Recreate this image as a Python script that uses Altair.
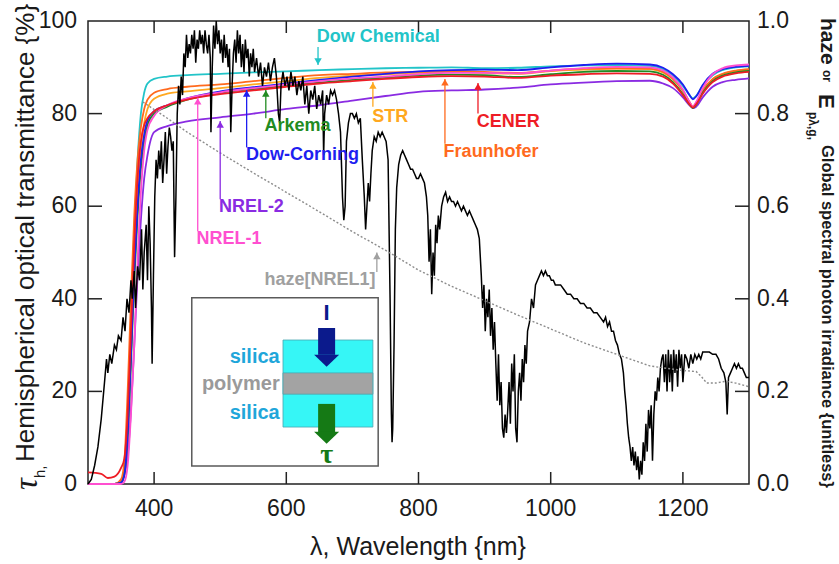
import altair as alt
import pandas as pd

# ---------------- data ----------------
wl_t = [300, 320, 330, 340, 350, 355, 360, 365, 370, 375, 380, 385, 390, 400, 420, 450,
        500, 550, 600, 650, 700, 750, 800, 850, 900, 950, 1000, 1050, 1100, 1150, 1170,
        1185, 1200, 1210, 1215, 1220, 1230, 1245, 1260, 1280, 1300]

tau_dow_chemical = [0, 0, 0, 0, 0.5, 3, 15, 35, 55, 70, 80, 84.5, 86.5, 87.5, 88, 88.3,
                    88.6, 88.9, 89.1, 89.4, 89.6, 89.8, 89.9, 90, 89.8, 89.9, 90.2, 90.4, 90.5, 90.3, 89.6,
                    88.2, 86, 84, 83.3, 83.8, 86, 88.3, 89.4, 90, 90.2]
tau_fraunhofer = [0, 0, 0, 0, 1, 5, 20, 40, 58, 70, 77, 81, 83, 84.5, 85.3, 85.8,
                  86.3, 87, 87.7, 88.3, 88.6, 88.9, 89, 89.2, 89, 88.8, 89.3, 89.7, 89.8, 89.7, 89,
                  87.5, 85, 82.5, 81.5, 82.3, 85, 87.5, 88.6, 89.3, 89.6]
tau_str = [0, 0, 0, 0, 0.5, 3, 14, 32, 50, 64, 73, 78, 81, 83.2, 84.3, 84.8,
           85.5, 86.3, 87, 87.7, 88.2, 88.5, 88.8, 89, 88.8, 88.6, 89.2, 89.5, 89.7, 89.6, 88.9,
           87.4, 84.9, 82.4, 81.5, 82.2, 84.9, 87.4, 88.5, 89.2, 89.5]
tau_arkema = [0, 0, 0, 0, 0.3, 2, 10, 26, 44, 58, 68, 74, 77.5, 80, 81.5, 83,
              84.5, 85.3, 86, 86.7, 87.3, 87.8, 88.2, 88.4, 88.3, 87.9, 88.5, 89, 89.2, 89.1, 88.4,
              86.8, 84.2, 82, 81.2, 81.9, 84.5, 87, 88.2, 88.9, 89.2]
tau_dow_corning = [0, 0, 0, 0, 0.3, 2, 11, 28, 46, 60, 70, 75.5, 78.5, 80.5, 81.8, 83.3,
                   84.8, 85.7, 86.5, 87.3, 88, 88.6, 89.1, 89.4, 89.5, 89.4, 90, 90.5, 90.8, 90.6, 89.9,
                   88.5, 86.3, 84, 83.1, 83.7, 86.2, 88.6, 89.6, 90.1, 90.3]
tau_cener = [2.5, 2.2, 1.3, 1.6, 3.5, 5.5, 15, 33, 52, 66, 74, 77.5, 79, 80.5, 81.8, 83,
             84.2, 85, 85.8, 86.5, 87, 87.5, 87.9, 88.1, 88, 87.7, 88.2, 88.5, 88.7, 88.6, 88,
             86.5, 84, 82, 81.3, 82, 84.3, 86.8, 88, 88.7, 89]
tau_nrel1 = [0, 0, 0, 0, 0, 0.5, 4, 15, 30, 48, 63, 72, 76.5, 79.5, 81.8, 83.3,
             84.6, 85.5, 86.3, 87, 87.6, 88, 88.5, 88.8, 88.8, 88.7, 89.3, 89.8, 90.1, 90, 89.3,
             87.8, 85.2, 82.5, 81.5, 82.5, 85.5, 88.5, 89.8, 90.4, 90.6]
tau_nrel2 = [0, 0, 0, 0, 0.5, 2, 6, 16, 30, 45, 57, 66, 71, 76, 77.3, 78.3,
             79.2, 80, 81, 81.8, 82.8, 83.8, 84.7, 85, 85.2, 85.6, 86.3, 86.7, 87, 87.1, 86.5,
             85.5, 83.5, 81.8, 81.2, 81.5, 83.5, 85.8, 86.8, 87.3, 87.6]

series_order = ["NREL-2", "Dow Chemical", "STR", "Fraunhofer", "Arkema", "Dow-Corning", "NREL-1", "CENER"]
series_values = {
    "NREL-2": tau_nrel2, "Dow Chemical": tau_dow_chemical, "STR": tau_str,
    "Fraunhofer": tau_fraunhofer, "Arkema": tau_arkema, "Dow-Corning": tau_dow_corning,
    "NREL-1": tau_nrel1, "CENER": tau_cener,
}
series_colors = {
    "NREL-2": "#8A2BE2", "Dow Chemical": "#22C4C8", "STR": "#FFA820",
    "Fraunhofer": "#FF6A1E", "Arkema": "#228B22", "Dow-Corning": "#1E1EF0",
    "NREL-1": "#FF4FD0", "CENER": "#EE1C25",
}

# global spectral photon irradiance (normalised, right axis), by region: (wavelength nm, value)
spec_uv = [(300, 0.00), (305, 0.01), (310, 0.04), (315, 0.08), (320, 0.14), (325, 0.22),
           (328, 0.27), (330, 0.24), (333, 0.28), (336, 0.26), (340, 0.30), (343, 0.29),
           (346, 0.32), (350, 0.31), (353, 0.36), (356, 0.33), (359, 0.40), (362, 0.37),
           (365, 0.44), (367, 0.40), (370, 0.46), (372, 0.38), (375, 0.47), (378, 0.44),
           (381, 0.55), (383, 0.42), (385, 0.50), (388, 0.56), (390, 0.44), (392, 0.60),
           (394, 0.52), (396, 0.38), (397, 0.26), (399, 0.45)]
spec_vis = [(401, 0.62), (403, 0.70), (405, 0.66), (407, 0.72), (409, 0.68), (411, 0.74),
            (413, 0.65), (415, 0.70), (417, 0.76), (419, 0.67), (421, 0.73), (423, 0.77),
            (425, 0.75), (427, 0.72), (429, 0.74), (431, 0.49), (433, 0.62), (435, 0.80),
            (437, 0.86), (439, 0.82), (441, 0.88), (443, 0.84), (445, 0.93), (447, 0.90),
            (449, 0.97), (451, 0.92), (453, 0.95), (455, 0.93), (457, 0.97), (459, 0.94),
            (461, 0.98), (463, 0.91), (465, 0.96), (467, 0.94), (469, 0.98), (471, 0.95),
            (473, 0.97), (475, 0.93), (477, 0.98), (479, 0.95), (481, 0.93), (483, 0.97),
            (485, 0.92), (486, 0.76), (488, 0.90), (490, 0.99), (492, 0.94), (494, 1.00),
            (496, 0.95), (498, 0.98), (500, 0.93), (502, 0.96), (504, 0.91), (506, 0.97),
            (508, 0.92), (510, 0.95), (512, 0.90), (514, 0.94), (516, 0.76), (518, 0.86),
            (520, 0.93), (522, 0.96), (524, 0.91), (526, 0.98), (528, 0.93), (530, 0.97),
            (532, 0.90), (534, 0.95), (536, 0.89), (538, 0.96), (540, 0.92), (542, 0.94),
            (544, 0.88), (546, 0.93), (548, 0.90), (550, 0.94), (552, 0.89), (555, 0.92),
            (558, 0.88), (561, 0.91), (564, 0.86), (567, 0.90), (570, 0.88), (573, 0.91),
            (576, 0.87), (579, 0.90), (582, 0.92), (585, 0.88), (588, 0.80), (590, 0.78),
            (592, 0.86), (595, 0.89), (598, 0.86), (601, 0.88), (604, 0.85), (607, 0.89),
            (610, 0.86), (613, 0.88), (616, 0.84), (619, 0.87), (622, 0.85), (625, 0.88),
            (628, 0.82), (631, 0.86), (634, 0.80), (637, 0.85), (640, 0.83), (643, 0.86),
            (646, 0.81), (649, 0.84), (652, 0.82), (655, 0.85), (656.5, 0.71), (658, 0.80),
            (661, 0.84), (664, 0.82), (667, 0.85), (670, 0.84), (673, 0.85), (676, 0.83),
            (679, 0.80), (682, 0.76), (685, 0.62), (687, 0.57), (689, 0.60), (691, 0.74),
            (694, 0.78), (697, 0.80), (700, 0.80), (703, 0.79), (706, 0.80), (709, 0.78),
            (712, 0.79), (715, 0.70), (718, 0.62), (720, 0.55), (722, 0.60), (724, 0.65),
            (726, 0.61), (728, 0.67), (730, 0.72), (733, 0.75), (736, 0.74), (739, 0.76),
            (742, 0.75), (745, 0.76), (748, 0.75), (751, 0.74), (754, 0.70), (757, 0.40),
            (759, 0.15), (760, 0.09), (761, 0.12), (763, 0.30), (765, 0.55), (767, 0.64),
            (770, 0.69), (773, 0.71), (776, 0.72), (779, 0.71), (782, 0.70), (785, 0.69),
            (788, 0.68), (791, 0.68), (794, 0.67), (797, 0.66)]
spec_nir1 = [(800, 0.66), (803, 0.67), (806, 0.66), (809, 0.65), (812, 0.62), (814, 0.58),
             (816, 0.48), (818, 0.55), (820, 0.41), (822, 0.50), (824, 0.45), (826, 0.56),
             (828, 0.52), (830, 0.58), (832, 0.55), (835, 0.60), (838, 0.62), (841, 0.63),
             (844, 0.61), (847, 0.62), (850, 0.61), (853, 0.61), (856, 0.60), (859, 0.61),
             (862, 0.60), (865, 0.59), (868, 0.60), (871, 0.59), (874, 0.58), (877, 0.59),
             (880, 0.58), (883, 0.57), (886, 0.56), (889, 0.55), (892, 0.53), (895, 0.45),
             (897, 0.38), (899, 0.43), (901, 0.33), (903, 0.40), (905, 0.36), (907, 0.42),
             (909, 0.32), (911, 0.38), (913, 0.29), (915, 0.35), (917, 0.26), (919, 0.18),
             (921, 0.28), (923, 0.17), (925, 0.22), (927, 0.12), (929, 0.10), (931, 0.15),
             (933, 0.11), (935, 0.16), (937, 0.22), (939, 0.13), (941, 0.26), (943, 0.20),
             (945, 0.28), (947, 0.12), (949, 0.09), (951, 0.20), (953, 0.24), (955, 0.18),
             (957, 0.27), (959, 0.22), (961, 0.30), (963, 0.26), (965, 0.33), (968, 0.35),
             (971, 0.40), (974, 0.38), (977, 0.43), (980, 0.44), (983, 0.45), (986, 0.46),
             (989, 0.45), (992, 0.46), (995, 0.45), (998, 0.45)]
spec_nir2 = [(1001, 0.44), (1004, 0.44), (1007, 0.43), (1010, 0.43), (1015, 0.43), (1020, 0.42),
             (1025, 0.41), (1030, 0.41), (1035, 0.40), (1040, 0.40), (1045, 0.39), (1050, 0.39),
             (1055, 0.38), (1060, 0.38), (1065, 0.37), (1070, 0.37), (1075, 0.36), (1080, 0.35),
             (1083, 0.36), (1086, 0.34), (1089, 0.35), (1092, 0.33), (1095, 0.33), (1098, 0.31),
             (1101, 0.30), (1104, 0.28), (1107, 0.27), (1110, 0.24), (1112, 0.20), (1114, 0.17),
             (1116, 0.13), (1118, 0.10), (1120, 0.08), (1122, 0.05), (1124, 0.08), (1126, 0.04),
             (1128, 0.07), (1130, 0.03), (1132, 0.06), (1134, 0.01), (1136, 0.05), (1138, 0.02),
             (1140, 0.09), (1142, 0.05), (1144, 0.13), (1146, 0.07), (1148, 0.16), (1150, 0.12),
             (1152, 0.17), (1154, 0.05), (1156, 0.15), (1158, 0.20), (1160, 0.18), (1162, 0.23),
             (1164, 0.20), (1166, 0.25), (1168, 0.27), (1170, 0.28), (1172, 0.22), (1174, 0.28),
             (1176, 0.20), (1178, 0.29), (1180, 0.22), (1182, 0.28), (1184, 0.20), (1186, 0.29),
             (1188, 0.24), (1190, 0.28), (1192, 0.21), (1194, 0.29), (1196, 0.25), (1198, 0.28),
             (1200, 0.22), (1203, 0.28), (1206, 0.27), (1209, 0.25), (1212, 0.28), (1215, 0.26),
             (1218, 0.28), (1221, 0.27), (1224, 0.28), (1227, 0.27), (1230, 0.285), (1235, 0.285),
             (1240, 0.285), (1245, 0.28), (1250, 0.28), (1254, 0.27), (1258, 0.25), (1262, 0.24),
             (1265, 0.22), (1267, 0.15), (1269, 0.23), (1272, 0.24), (1275, 0.25), (1278, 0.26),
             (1281, 0.25), (1284, 0.26), (1287, 0.25), (1290, 0.25), (1293, 0.24), (1296, 0.23),
             (1300, 0.23)]

haze_wl = [383, 420, 450, 500, 550, 600, 650, 700, 750, 800, 850, 900, 950, 1000, 1050,
           1100, 1150, 1200, 1220, 1228, 1236, 1250, 1265, 1280, 1300]
haze_val = [0.825, 0.79, 0.76, 0.715, 0.672, 0.63, 0.588, 0.545, 0.505, 0.462, 0.427, 0.396,
            0.365, 0.335, 0.305, 0.28, 0.255, 0.245, 0.243, 0.232, 0.218, 0.218, 0.222, 0.218, 0.21]

# annotations (wavelength, % on left axis)
label_text = ["Dow Chemical", "STR", "Arkema", "Dow-Corning", "NREL-2", "NREL-1", "Fraunhofer", "CENER"]
label_wl = [646, 730, 567, 539, 498, 464, 838, 888]
label_pct = [96.5, 79.3, 77.3, 71.0, 59.8, 52.9, 71.7, 78.2]
label_color = ["#22C4C8", "#FFA820", "#228B22", "#1E1EF0", "#8A2BE2", "#FF4FD0", "#FF6A1E", "#EE1C25"]

arrow_wl = [648, 731, 569, 540, 500, 466, 840, 890, 737]
arrow_from = [94.4, 81.5, 79.0, 72.7, 61.5, 54.6, 73.5, 80.0, 45.8]
arrow_to = [90.5, 86.8, 85.1, 85.1, 78.4, 83.4, 87.5, 86.6, 50.0]
arrow_up = [False, True, True, True, True, True, True, True, True]
arrow_color = ["#22C4C8", "#FFA820", "#228B22", "#1E1EF0", "#8A2BE2", "#FF4FD0", "#FF6A1E", "#EE1C25", "#A0A0A0"]

x_ticks = [400, 600, 800, 1000, 1200]
yl_ticks = [0, 20, 40, 60, 80, 100]
yr_ticks = [0.0, 0.2, 0.4, 0.6, 0.8, 1.0]

# ---------------- chart ----------------
W, H = 661, 463
FONT = "Liberation Sans"
TXT = "#1a1a1a"
FRAME = "#222"
xs = alt.Scale(domain=[300, 1300], nice=False, zero=False)
ys = alt.Scale(domain=[0, 100], nice=False, zero=False)   # left axis (%); right axis = value*100


def xq(field="wl"):
    return alt.X(f"{field}:Q", scale=xs, axis=None)


def yq(field):
    return alt.Y(f"{field}:Q", scale=ys, axis=None)


layers = []

# transmittance curves
for name in series_order:
    df = pd.DataFrame({"wl": wl_t, "tau": series_values[name]})
    layers.append(
        alt.Chart(df).mark_line(color=series_colors[name], strokeWidth=1.8, interpolate="monotone").encode(
            x=xq(), y=yq("tau"))
    )

# spectrum + haze (right axis units, shown on the shared 0-100 scale)
spec_pts = spec_uv + spec_vis + spec_nir1 + spec_nir2
spec_df = pd.DataFrame({"wl": [p[0] for p in spec_pts], "E": [p[1] for p in spec_pts]})
layers.append(alt.Chart(spec_df).transform_calculate(pct="datum.E * 100").mark_line(
    color="black", strokeWidth=1.5).encode(x=xq(), y=yq("pct")))
haze_df = pd.DataFrame({"wl": haze_wl, "E": haze_val})
layers.append(alt.Chart(haze_df).transform_calculate(pct="datum.E * 100").mark_line(
    color="#8C8C8C", strokeWidth=1.4, strokeDash=[2, 2]).encode(x=xq(), y=yq("pct")))

# ticks (inward)
lt_df = pd.DataFrame({"v": yl_ticks[1:-1]})
layers.append(alt.Chart(lt_df).mark_rule(color=FRAME, strokeWidth=1.5).encode(
    y=yq("v"), x=alt.value(0), x2=alt.value(14)))
rt_df = pd.DataFrame({"r": yr_ticks[1:-1]})
layers.append(alt.Chart(rt_df).transform_calculate(v="datum.r * 100").mark_rule(color=FRAME, strokeWidth=1.5).encode(
    y=yq("v"), x=alt.value(W - 14), x2=alt.value(W)))
xt_df = pd.DataFrame({"t": x_ticks})
layers.append(alt.Chart(xt_df).mark_rule(color=FRAME, strokeWidth=1.5).encode(
    x=xq("t"), y=alt.value(H), y2=alt.value(H - 12)))
layers.append(alt.Chart(xt_df).mark_rule(color=FRAME, strokeWidth=1.5).encode(
    x=xq("t"), y=alt.value(0), y2=alt.value(12)))

# tick labels
xl_df = pd.DataFrame({"t": x_ticks, "s": [str(v) for v in x_ticks]})
layers.append(alt.Chart(xl_df).mark_text(font=FONT, fontSize=23, color=TXT, baseline="middle").encode(
    x=xq("t"), y=alt.value(H + 25), text="s:N"))
yl_df = pd.DataFrame({"v": yl_ticks, "s": [str(v) for v in yl_ticks]})
layers.append(alt.Chart(yl_df).mark_text(font=FONT, fontSize=23, color=TXT, baseline="middle", align="right").encode(
    y=yq("v"), x=alt.value(-11), text="s:N"))
yr_df = pd.DataFrame({"r": yr_ticks, "s": [f"{v:.1f}" for v in yr_ticks]})
layers.append(alt.Chart(yr_df).transform_calculate(v="datum.r * 100").mark_text(
    font=FONT, fontSize=23, color=TXT, baseline="middle", align="left").encode(
    y=yq("v"), x=alt.value(W + 8), text="s:N"))

# arrows
arr_df = pd.DataFrame({"wl": arrow_wl, "y1": arrow_from, "y2": arrow_to, "up": arrow_up, "c": arrow_color})
layers.append(alt.Chart(arr_df).mark_rule(strokeWidth=1.3).encode(
    x=xq(), y=yq("y1"), y2=alt.Y2("y2"), color=alt.Color("c:N", scale=None)))
layers.append(alt.Chart(arr_df[arr_df["up"]]).mark_point(shape="triangle-up", filled=True, size=55, opacity=1, yOffset=3.5).encode(
    x=xq(), y=yq("y2"), color=alt.Color("c:N", scale=None)))
layers.append(alt.Chart(arr_df[~arr_df["up"]]).mark_point(shape="triangle-down", filled=True, size=55, opacity=1, yOffset=-3.5).encode(
    x=xq(), y=yq("y2"), color=alt.Color("c:N", scale=None)))

# annotation labels
lab_df = pd.DataFrame({"wl": label_wl, "p": label_pct, "t": label_text, "c": label_color})
layers.append(alt.Chart(lab_df).mark_text(font=FONT, fontSize=18, fontWeight="bold", align="left", baseline="middle").encode(
    x=xq(), y=yq("p"), text="t:N", color=alt.Color("c:N", scale=None)))
haze_lab = pd.DataFrame({"wl": [735], "p": [44.0], "t": ["haze[NREL1]"]})
layers.append(alt.Chart(haze_lab).mark_text(font=FONT, fontSize=18, fontWeight="bold", align="right", baseline="middle", color="#A0A0A0").encode(
    x=xq(), y=yq("p"), text="t:N"))

# inset diagram
box_df = pd.DataFrame({"x1": [457], "x2": [739], "y1": [3.9], "y2": [40.2]})
layers.append(alt.Chart(box_df).mark_rect(fill="white", stroke="#5a5a5a", strokeWidth=1.5).encode(
    x=xq("x1"), x2="x2:Q", y=yq("y1"), y2="y2:Q"))
layer_df = pd.DataFrame({"x1": [595, 595], "x2": [731, 731], "y1": [12.3, 19.4], "y2": [31.1, 24.0],
                         "c": ["#36F6F6", "#A3A3A3"]})
layers.append(alt.Chart(layer_df).mark_rect(stroke="#4aa6b0", strokeWidth=0.8).encode(
    x=xq("x1"), x2="x2:Q", y=yq("y1"), y2="y2:Q", fill=alt.Fill("c:N", scale=None)))
inset_lab = pd.DataFrame({"wl": [590, 590, 590], "p": [27.4, 21.6, 15.3],
                          "t": ["silica", "polymer", "silica"], "c": ["#1FA6DA", "#9A9A9A", "#1FA6DA"]})
layers.append(alt.Chart(inset_lab).mark_text(font=FONT, fontSize=20, fontWeight="bold", align="right", baseline="middle").encode(
    x=xq(), y=yq("p"), text="t:N", color=alt.Color("c:N", scale=None)))
shaft_df = pd.DataFrame({"wl": [661, 661], "y1": [33.7, 17.3], "y2": [27.9, 11.2], "c": ["#0B1A8C", "#157A15"]})
layers.append(alt.Chart(shaft_df).mark_rule(strokeWidth=17, strokeCap="butt").encode(
    x=xq(), y=yq("y1"), y2="y2:Q", color=alt.Color("c:N", scale=None)))
head_df = pd.DataFrame({"wl": [661, 661], "p": [26.6, 10.0], "c": ["#0B1A8C", "#157A15"]})
layers.append(alt.Chart(head_df).mark_point(shape="M -1 -0.48 L 1 -0.48 L 0 0.48 Z", size=625, filled=True, opacity=1).encode(
    x=xq(), y=yq("p"), color=alt.Color("c:N", scale=None)))
sym_df = pd.DataFrame({"wl": [661], "p": [36.9], "t": ["I"]})
layers.append(alt.Chart(sym_df).mark_text(font=FONT, fontSize=22, fontWeight="bold", color="#0B1A8C", baseline="middle").encode(
    x=xq(), y=yq("p"), text="t:N"))
tau_df = pd.DataFrame({"wl": [661], "p": [6.3], "t": ["τ"]})
layers.append(alt.Chart(tau_df).mark_text(font="Liberation Serif", fontSize=28, fontWeight="bold", color="#157A15", baseline="middle").encode(
    x=xq(), y=yq("p"), text="t:N"))

one = pd.DataFrame({"a": [0]})


def ptext(txt, x, y, size, angle=0, color=TXT, weight="normal", align="left", font=FONT, style="normal"):
    return alt.Chart(one).mark_text(text=txt, fontSize=size, angle=angle, color=color, fontWeight=weight,
                                    align=align, baseline="middle", font=font, fontStyle=style).encode(
        x=alt.value(x), y=alt.value(y))


# x title
layers.append(ptext("λ, Wavelength {nm}", 330, 526, 25, align="center"))
# left title (reads bottom to top)
layers.append(ptext("τ", -61, 469, 33, angle=270, font="Liberation Serif", style="italic"))
layers.append(ptext("h,", -48, 457, 15, angle=270))
layers.append(ptext("Hemispherical optical transmittance {%}", -62, 441, 26, angle=270))
# right title (reads top to bottom)
layers.append(ptext("haze", 739, -3, 21, angle=90, weight="bold"))
layers.append(ptext("or", 739, 49, 12, angle=90, weight="bold"))
layers.append(ptext("E", 738, 73, 22, angle=90, weight="bold"))
layers.append(ptext("pλ,g,", 725, 91, 12, angle=90, weight="bold"))
layers.append(ptext("Global spectral photon irradiance {unitless}", 739, 124, 16.5, angle=90, weight="bold"))

chart = alt.layer(*layers).properties(
    width=W, height=H,
    autosize=alt.AutoSizeParams(type="none"),
    padding={"left": 88, "top": 21, "right": 90, "bottom": 80},
    background="white",
).configure_view(stroke=FRAME, strokeWidth=1.5)

chart.save("out.html", embed_options={"renderer": "svg", "actions": False})
